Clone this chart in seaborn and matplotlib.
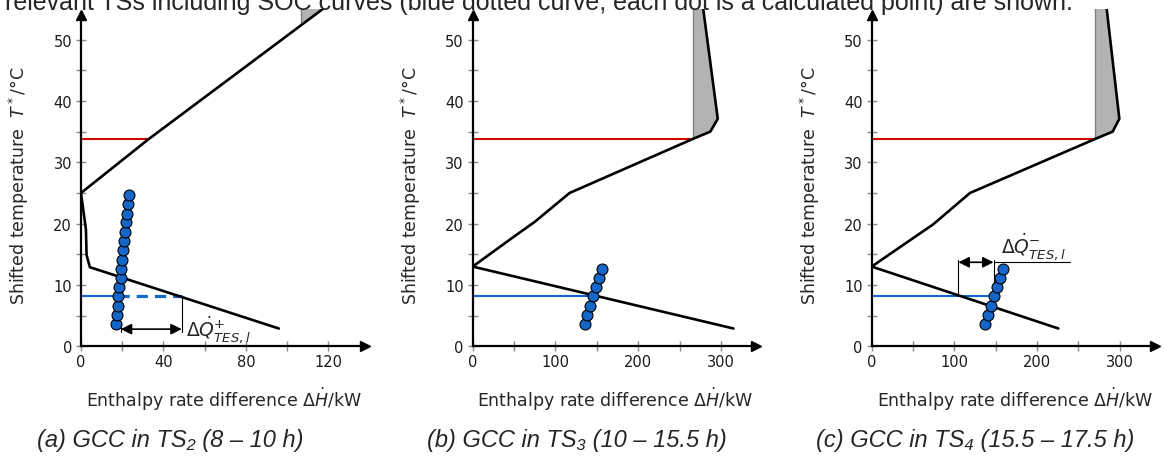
import pandas as pd
import seaborn as sns
import matplotlib.pyplot as plt
from matplotlib.ticker import FixedLocator

sns.set_theme(style="white")
plt.rcParams["font.family"] = ["DejaVu Sans"]
plt.rcParams["mathtext.fontset"] = "dejavusans"

# ---- data (enthalpy rate in kW, shifted temperature in degC) ----
# grand composite curves
gcc_a_h = [125.3, 107.0, 32.5, 0.0, 2.4, 2.7, 4.3, 96.0]
gcc_a_t = [57.0, 52.4, 33.7, 25.0, 19.0, 14.9, 12.9, 2.9]
gcc_b_h = [276.5, 296.0, 287.0, 265.7, 117.0, 75.0, 50.0, 0.0, 315.0]
gcc_b_t = [57.0, 37.1, 35.0, 33.8, 25.0, 20.3, 17.9, 13.0, 2.9]
gcc_c_h = [282.8, 299.8, 291.7, 270.3, 119.0, 74.6, 0.0, 226.0]
gcc_c_t = [57.0, 37.1, 35.0, 33.8, 25.0, 19.9, 13.0, 2.9]

# SOC curves (one dot per calculated point)
soc_a_h = [16.8, 17.3, 17.8, 18.1, 18.6, 19.3, 19.6, 20.1, 20.6, 21.0, 21.4, 21.8, 22.2, 22.7, 23.3]
soc_a_t = [3.6, 5.1, 6.6, 8.2, 9.6, 11.1, 12.6, 14.1, 15.7, 17.1, 18.6, 20.2, 21.6, 23.2, 24.7]
soc_b_h = [135.2, 138.4, 141.7, 145.3, 149.3, 152.5, 156.6]
soc_c_h = [137.2, 140.8, 144.4, 148.5, 151.7, 155.3, 159.3]
soc_bc_t = [3.6, 5.1, 6.6, 8.2, 9.6, 11.1, 12.6]

# start of the grey area
pinch_h = [107.0, 265.7, 270.3]
pinch_t = [52.4, 33.8, 33.8]

# red line and blue line
hot_t = 33.8
hot_end = [32.5, 265.7, 270.3]
tes_t = 8.2
tes_end = [18.1, 141.7, 148.5]

# delta Q annotations
q_plus = [19.3, 48.9]
q_minus = [105.0, 147.5]

x_max = [138.8, 344.6, 346.6]
x_major = [[0, 40, 80, 120], [0, 100, 200, 300], [0, 100, 200, 300]]
x_minor = [[20, 60, 100], [50, 150, 250], [50, 150, 250]]
captions = ["(a) GCC in TS\u2082 (8 \u2013 10 h)",
            "(b) GCC in TS\u2083 (10 \u2013 15.5 h)",
            "(c) GCC in TS\u2084 (15.5 \u2013 17.5 h)"]
caption_x = [170, 577, 975]

gcc = [pd.DataFrame({"H": gcc_a_h, "T": gcc_a_t}),
       pd.DataFrame({"H": gcc_b_h, "T": gcc_b_t}),
       pd.DataFrame({"H": gcc_c_h, "T": gcc_c_t})]
soc = [pd.DataFrame({"H": soc_a_h, "T": soc_a_t}),
       pd.DataFrame({"H": soc_b_h, "T": soc_bc_t}),
       pd.DataFrame({"H": soc_c_h, "T": soc_bc_t})]

W, H = 1164, 464
fig = plt.figure(figsize=(W / 100, H / 100), dpi=100)

# axes boxes in pixels: left, top, right, bottom
boxes = [(81, 10, 367, 347.3), (472.7, 10, 758, 347.3), (871.7, 10, 1158, 347.3)]

blue = "#1466c8"
for i, (l, t, r, b) in enumerate(boxes):
    ax = fig.add_axes([l / W, 1 - b / H, (r - l) / W, (b - t) / H])
    ax.set_xlim(0, x_max[i])
    ax.set_ylim(0, 55)

    # grey area between the pinch vertical and the curve above it
    up = gcc[i][gcc[i]["T"] >= pinch_t[i]].sort_values("T")
    ax.fill_betweenx(up["T"], pinch_h[i], up["H"], color="#b3b3b3", lw=0, zorder=1)
    ax.plot([pinch_h[i], pinch_h[i]], [pinch_t[i], 57], color="#808080", lw=1.0, zorder=2)

    # red and blue horizontal lines
    ax.plot([0, hot_end[i]], [hot_t, hot_t], color="#d40000", lw=1.5, zorder=2)
    ax.plot([0, tes_end[i]], [tes_t, tes_t], color=blue, lw=1.5, zorder=2)

    sns.lineplot(data=gcc[i], x="H", y="T", sort=False, estimator=None,
                 color="black", lw=1.9, ax=ax, zorder=3)

    if i == 0:
        ax.plot([tes_end[i], q_plus[1]], [tes_t, tes_t], color=blue, lw=2.3,
                ls=(0, (3.5, 2.2)), zorder=2)
        ax.plot([q_plus[1], q_plus[1]], [tes_t, 2.3], color="black", lw=0.8)
        ax.plot([q_plus[0], q_plus[0]], [4.0, 2.3], color="black", lw=0.8)
        ax.annotate("", xy=(q_plus[0], 2.8), xytext=(q_plus[1], 2.8),
                    arrowprops=dict(arrowstyle="<|-|>", color="black", lw=1.2,
                                    mutation_scale=16, shrinkA=0, shrinkB=0))
        ax.text(51.0, 2.8, r"$\Delta\dot{Q}^{+}_{TES,l}$", fontsize=13.5,
                ha="left", va="center")
    if i == 2:
        ax.plot([q_minus[0], q_minus[0]], [tes_t, 14.0], color="black", lw=0.8)
        ax.plot([q_minus[1], q_minus[1]], [tes_t, 14.0], color="black", lw=0.8)
        ax.plot([q_minus[1], 240], [13.7, 13.7], color="black", lw=0.8)
        ax.annotate("", xy=(q_minus[0], 13.7), xytext=(q_minus[1], 13.7),
                    arrowprops=dict(arrowstyle="<|-|>", color="black", lw=1.2,
                                    mutation_scale=16, shrinkA=0, shrinkB=0))
        ax.text(157, 16.4, r"$\Delta\dot{Q}^{-}_{TES,l}$", fontsize=13.5,
                ha="left", va="center")

    sns.scatterplot(data=soc[i], x="H", y="T", s=62, color=blue,
                    edgecolor="black", linewidth=0.8, ax=ax, zorder=5, clip_on=False)

    # axes with arrow heads
    for s in ["top", "right"]:
        ax.spines[s].set_visible(False)
    ax.spines["left"].set_linewidth(1.6)
    ax.spines["bottom"].set_linewidth(1.6)
    ax.spines["left"].set_bounds(0, 54)
    ax.spines["left"].set_color("black")
    ax.spines["bottom"].set_color("black")
    ax.plot(0, 54.0, "^", color="black", ms=7, clip_on=False, zorder=6)
    ax.plot(x_max[i] - 2.5 * x_max[i] / 286, 0, ">", color="black", ms=7,
            clip_on=False, zorder=6)

    ax.xaxis.set_major_locator(FixedLocator(x_major[i]))
    ax.xaxis.set_minor_locator(FixedLocator(x_minor[i]))
    ax.yaxis.set_major_locator(FixedLocator([0, 10, 20, 30, 40, 50]))
    ax.yaxis.set_minor_locator(FixedLocator([5, 15, 25, 35, 45]))
    ax.tick_params(which="both", direction="inout", length=7, width=1.0,
                   color="#8c8c8c", labelsize=10.5, labelcolor="#1a1a1a",
                   bottom=True, left=True)
    ax.tick_params(axis="x", pad=2)
    ax.tick_params(axis="y", pad=3)

    ax.set_xlabel(r"Enthalpy rate difference $\Delta\dot{H}$/kW", fontsize=12.5)
    ax.set_ylabel(r"Shifted temperature  $T^*$/°C", fontsize=12.5)
    wpx = r - l
    ax.xaxis.set_label_coords(0.5, -(386 - b) / (b - t))
    ax.yaxis.set_label_coords(-50 / wpx, 0.48)

    fig.text(caption_x[i] / W, 1 - 441 / H, captions[i], fontsize=17,
             style="italic", ha="center", va="center",
             family=["Liberation Sans", "DejaVu Sans"])

fig.text(0.004, 1 - 10 / H,
         "relevant TSs including SOC curves (blue dotted curve, each dot is a calculated point) are shown.",
         fontsize=18, ha="left", va="baseline", family=["Liberation Sans", "DejaVu Sans"])

fig.savefig("out.png", dpi=100)
